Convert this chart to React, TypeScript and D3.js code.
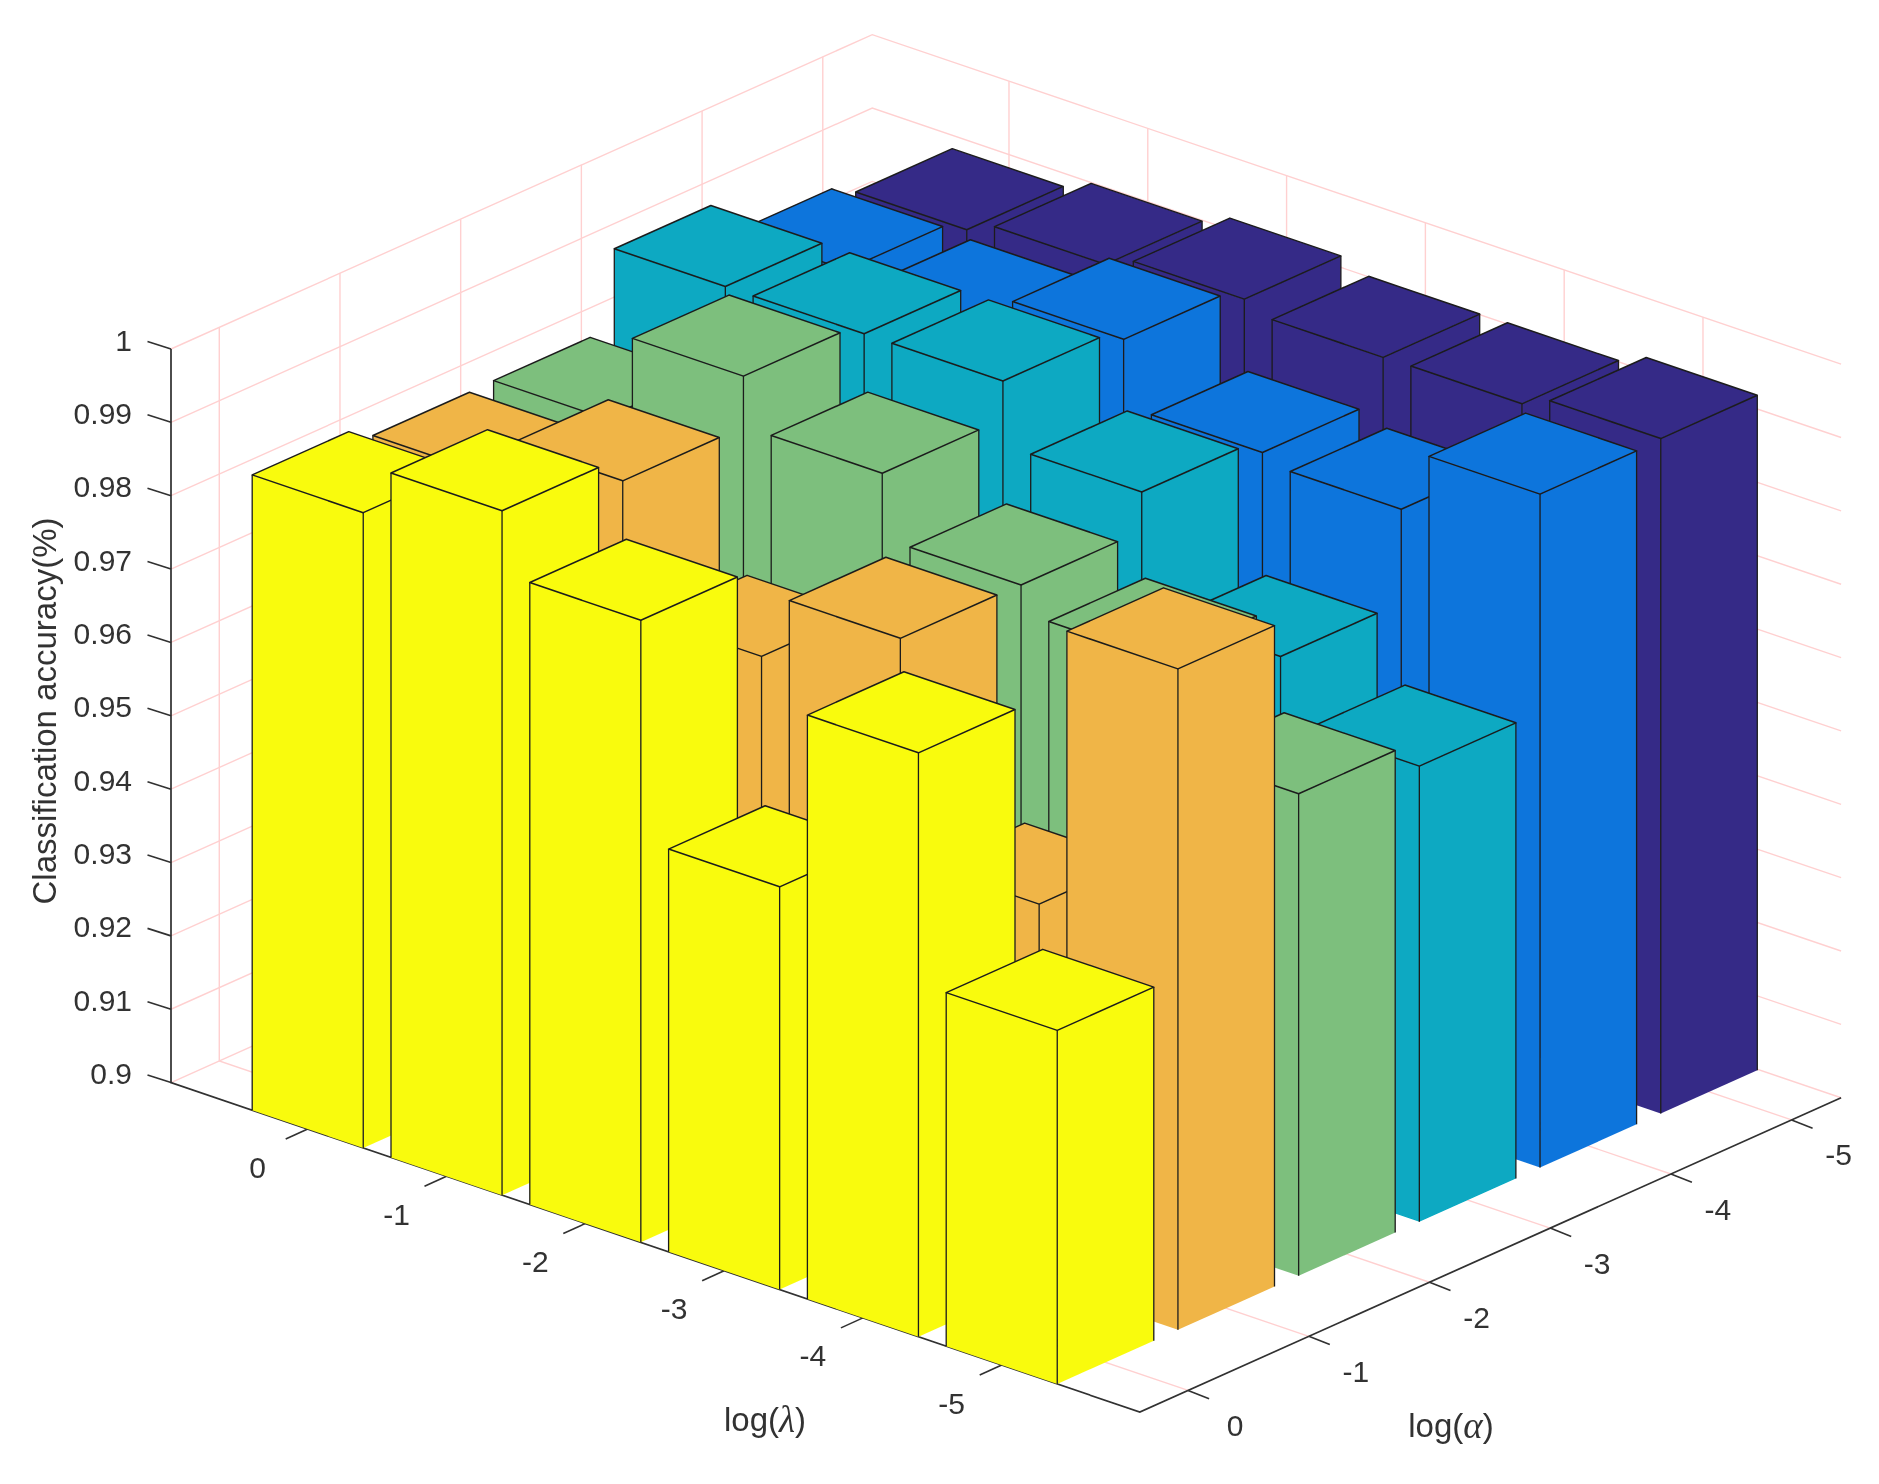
import React from "react";
import * as d3 from "d3";

const W = 1879;
const H = 1484;

const lambdaLabels = ["0", "-1", "-2", "-3", "-4", "-5"];
const alphaLabels = ["0", "-1", "-2", "-3", "-4", "-5"];
const zTicks = [0.9, 0.91, 0.92, 0.93, 0.94, 0.95, 0.96, 0.97, 0.98, 0.99, 1];

// each array: accuracy for log(lambda) = 0 .. -5
const alpha0 = [0.9866, 0.9933, 0.9848, 0.9549, 0.9796, 0.9482];
const alpha1 = [0.9846, 0.99, 0.9725, 0.9814, 0.9516, 0.9901];
const alpha2 = [0.9847, 0.9969, 0.9901, 0.9813, 0.9776, 0.9657];
const alpha3 = [0.9953, 0.9953, 0.9953, 0.9866, 0.9706, 0.9621];
const alpha4 = [0.9902, 0.9897, 0.9936, 0.9846, 0.9833, 0.9918];
const alpha5 = [0.9883, 0.99, 0.9917, 0.9902, 0.9903, 0.992];
const rows = [alpha0, alpha1, alpha2, alpha3, alpha4, alpha5];
const rowColors = ["#F9FB0E", "#F0B546", "#7DBF7D", "#07A9C2", "#0E74DC", "#352A87"];

const GRID = "#FFD0D0";
const AXIS = "#303030";
const EDGE = "#1c1c1c";
const FONT = "'Liberation Sans', Arial, sans-serif";

// oblique projection built from d3 linear scales
const lamX = d3.scaleLinear().domain([0, 1]).range([0, 138.8]);
const lamY = d3.scaleLinear().domain([0, 1]).range([0, 47.2]);
const alpX = d3.scaleLinear().domain([0, 1]).range([0, 120.7]);
const alpY = d3.scaleLinear().domain([0, 1]).range([0, -54.1]);
const zPx = d3.scaleLinear().domain([0.9, 1]).range([0, 733.6]);
const ORIGIN: [number, number] = [171, 1082.6];
const LAM_MAX = 6.98;
const ALP_MAX = 5.81;
const LAM0 = 0.985;
const ALP0 = 0.4;
const HALF = 0.4;

function proj(a: number, b: number, z: number): [number, number] {
  return [ORIGIN[0] + lamX(a) + alpX(b), ORIGIN[1] + lamY(a) + alpY(b) - zPx(z)];
}
const line = d3.line();
const path = (pts: [number, number][], close = false) => line(pts) + (close ? "Z" : "");

function Bar({ i, j, v, color }: { i: number; j: number; v: number; color: string }) {
  const a0 = LAM0 + i - HALF;
  const a1 = LAM0 + i + HALF;
  const b0 = ALP0 + j - HALF;
  const b1 = ALP0 + j + HALF;
  const lT = proj(a0, b0, v);
  const fT = proj(a1, b0, v);
  const rT = proj(a1, b1, v);
  const bT = proj(a0, b1, v);
  const lB = proj(a0, b0, 0.9);
  const fB = proj(a1, b0, 0.9);
  const rB = proj(a1, b1, 0.9);
  return (
    <g>
      <path d={path([lT, fT, fB, lB], true)} fill={color} />
      <path d={path([fT, rT, rB, fB], true)} fill={color} />
      <path d={path([lT, fT, rT, bT], true)} fill={color} stroke={EDGE} strokeWidth={1.5} strokeLinejoin="round" />
      <path d={path([lT, lB])} stroke={EDGE} strokeWidth={1.3} fill="none" />
      <path d={path([fT, fB])} stroke={EDGE} strokeWidth={1.3} fill="none" />
      <path d={path([rT, rB])} stroke={EDGE} strokeWidth={1.3} fill="none" />
    </g>
  );
}

export default function App() {
  const gridPaths: string[] = [];
  zTicks.forEach((z) => {
    gridPaths.push(path([proj(0, 0, z), proj(0, ALP_MAX, z), proj(LAM_MAX, ALP_MAX, z)]));
  });
  lambdaLabels.forEach((_, i) => {
    const a = LAM0 + i;
    gridPaths.push(path([proj(a, 0, 0.9), proj(a, ALP_MAX, 0.9), proj(a, ALP_MAX, 1)]));
  });
  alphaLabels.forEach((_, j) => {
    const b = ALP0 + j;
    gridPaths.push(path([proj(LAM_MAX, b, 0.9), proj(0, b, 0.9), proj(0, b, 1)]));
  });

  const bars: React.ReactElement[] = [];
  for (let j = rows.length - 1; j >= 0; j--) {
    rows[j].forEach((v, i) => {
      bars.push(<Bar key={`${i}-${j}`} i={i} j={j} v={v} color={rowColors[j]} />);
    });
  }

  const textProps = { fontFamily: FONT, fontSize: 30, fill: "#333" };
  const labelProps = { fontFamily: FONT, fontSize: 33, fill: "#333" };

  return (
    <svg width={W} height={H} viewBox={`0 0 ${W} ${H}`} style={{ position: "absolute", left: 0, top: 0, display: "block", background: "#fff" }}>
      <defs>
        <filter id="soft" x="0" y="0" width="100%" height="100%">
          <feGaussianBlur stdDeviation="0.65" />
        </filter>
      </defs>
      <g filter="url(#soft)">
        {gridPaths.map((d, k) => (
          <path key={k} d={d} fill="none" stroke={GRID} strokeWidth={1.4} />
        ))}
        <path d={path([proj(0, 0, 1), proj(0, 0, 0.9), proj(LAM_MAX, 0, 0.9), proj(LAM_MAX, ALP_MAX, 0.9)])} fill="none" stroke={AXIS} strokeWidth={1.7} />
        {zTicks.map((z) => {
          const p = proj(0, 0, z);
          return (
            <g key={z}>
              <path d={path([p, [p[0] - 23.5, p[1] - 7.5]])} stroke={AXIS} strokeWidth={1.6} />
              <text x={132} y={p[1] - 9} textAnchor="end" dominantBaseline="central" {...textProps}>
                {z === 1 ? "1" : String(z)}
              </text>
            </g>
          );
        })}
        {lambdaLabels.map((t, i) => {
          const p = proj(LAM0 + i, 0, 0.9);
          return (
            <g key={t}>
              <path d={path([p, [p[0] - 22, p[1] + 10]])} stroke={AXIS} strokeWidth={1.6} />
              <text x={p[0] - 50} y={p[1] + 38} textAnchor="middle" dominantBaseline="central" {...textProps}>
                {t}
              </text>
            </g>
          );
        })}
        {alphaLabels.map((t, j) => {
          const p = proj(LAM_MAX, ALP0 + j, 0.9);
          return (
            <g key={t}>
              <path d={path([p, [p[0] + 21, p[1] + 8.3]])} stroke={AXIS} strokeWidth={1.6} />
              <text x={p[0] + 47} y={p[1] + 35} textAnchor="middle" dominantBaseline="central" {...textProps}>
                {t}
              </text>
            </g>
          );
        })}
        <text x={765} y={1419} textAnchor="middle" dominantBaseline="central" {...labelProps}>
          log(<tspan fontFamily="'Liberation Serif', serif" fontStyle="italic" fontSize={37}>λ</tspan>)
        </text>
        <text x={1451} y={1425} textAnchor="middle" dominantBaseline="central" {...labelProps}>
          log(<tspan fontFamily="'Liberation Serif', serif" fontStyle="italic" fontSize={37}>α</tspan>)
        </text>
        <text transform="translate(44,711) rotate(-90)" textAnchor="middle" dominantBaseline="central" {...labelProps}>
          Classification accuracy(%)
        </text>
        {bars}
      </g>
    </svg>
  );
}
